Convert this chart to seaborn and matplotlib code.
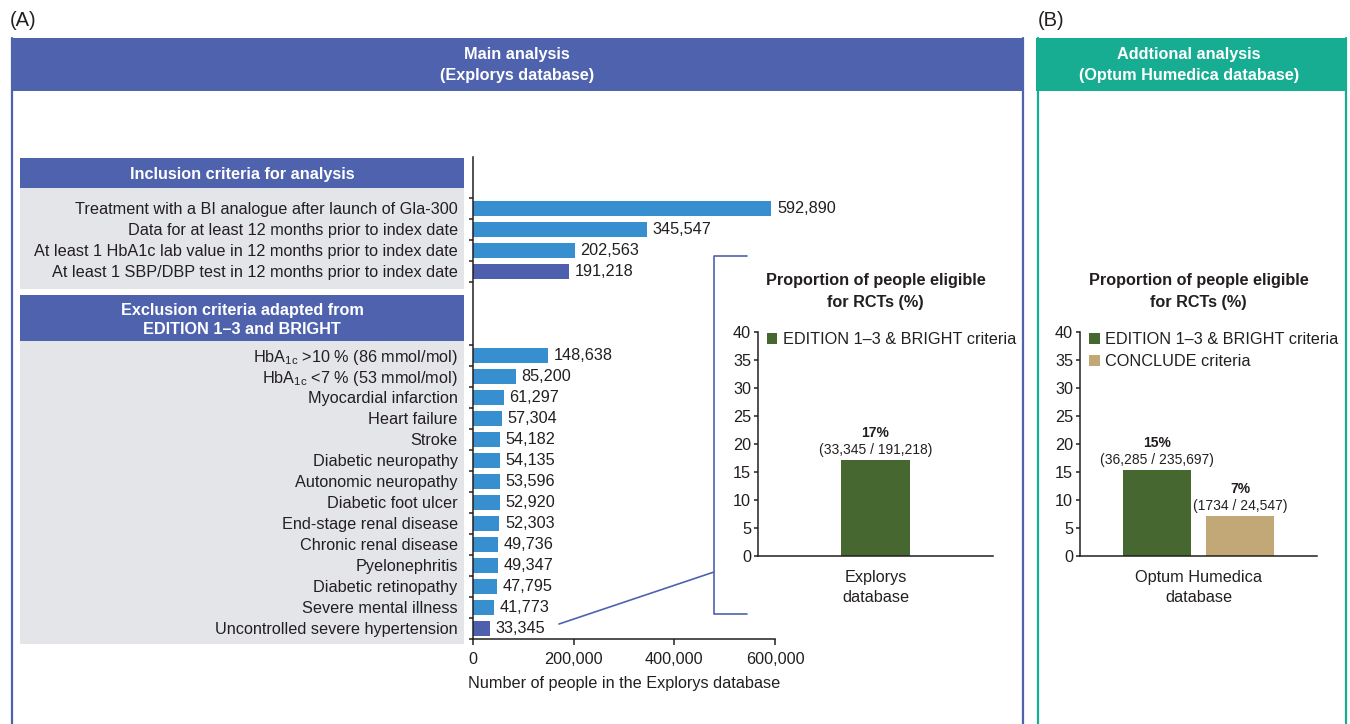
import numpy as np
import pandas as pd
import matplotlib
matplotlib.use("Agg")
import matplotlib.pyplot as plt
from matplotlib.patches import Rectangle
from matplotlib.lines import Line2D
import seaborn as sns

# ---------------- data ----------------
inclusion_labels = [
    "Treatment with a BI analogue after launch of Gla-300",
    "Data for at least 12 months prior to index date",
    "At least 1 HbA1c lab value in 12 months prior to index date",
    "At least 1 SBP/DBP test in 12 months prior to index date",
]
inclusion_counts = [592890, 345547, 202563, 191218]

exclusion_labels = [
    r"HbA$_{\mathregular{1c}}$ >10 % (86 mmol/mol)",
    r"HbA$_{\mathregular{1c}}$ <7 % (53 mmol/mol)",
    "Myocardial infarction",
    "Heart failure",
    "Stroke",
    "Diabetic neuropathy",
    "Autonomic neuropathy",
    "Diabetic foot ulcer",
    "End-stage renal disease",
    "Chronic renal disease",
    "Pyelonephritis",
    "Diabetic retinopathy",
    "Severe mental illness",
    "Uncontrolled severe hypertension",
]
exclusion_counts = [148638, 85200, 61297, 57304, 54182, 54135, 53596,
                    52920, 52303, 49736, 49347, 47795, 41773, 33345]
main_xticks = [0, 200000, 400000, 600000]

explorys_db = ["Explorys\ndatabase"]
explorys_criteria = ["EDITION 1\u20133 & BRIGHT criteria"]
explorys_pct = [17.2]
explorys_pct_text = ["17%"]
explorys_ratio_text = ["(33,345 / 191,218)"]

optum_db = ["Optum Humedica\ndatabase", "Optum Humedica\ndatabase"]
optum_criteria = ["EDITION 1\u20133 & BRIGHT criteria", "CONCLUDE criteria"]
optum_pct = [15.3, 7.1]
optum_pct_text = ["15%", "7%"]
optum_ratio_text = ["(36,285 / 235,697)", "(1734 / 24,547)"]

pct_ticks = [0, 5, 10, 15, 20, 25, 30, 35, 40]

# ---------------- style ----------------
sns.set_style("ticks")
plt.rcParams["font.family"] = ["Liberation Sans", "DejaVu Sans"]
plt.rcParams["mathtext.fontset"] = "custom"
plt.rcParams["mathtext.rm"] = "Liberation Sans"
plt.rcParams["mathtext.default"] = "regular"

TXT = "#231f20"
LIGHT = "#378fcf"
DARK = "#4e5fad"
HEAD = "#4f62ae"
TEAL = "#17ad92"
GRAY = "#e4e5e9"
GREEN = "#466730"
TAN = "#c2a877"
FS = 11.7

W, H = 1350, 724
fig = plt.figure(figsize=(W / 100, H / 100), dpi=100)


def rect(l, t, r, b):
    return [l / W, 1 - b / H, (r - l) / W, (b - t) / H]


# background / decoration layer in pixel coordinates
bg = fig.add_axes([0, 0, 1, 1])
bg.set_zorder(0)
bg.set_xlim(0, W)
bg.set_ylim(H, 0)
bg.axis("off")

bg.text(10, 20, "(A)", fontsize=14.5, color=TXT, ha="left", va="center")
bg.text(1038, 20, "(B)", fontsize=14.5, color=TXT, ha="left", va="center")

# panel A frame
bg.add_patch(Rectangle((11, 38), 1013, 53, color=HEAD, lw=0))
bg.add_line(Line2D([12, 12], [38, 730], color=HEAD, lw=1.6))
bg.add_line(Line2D([1023, 1023], [38, 730], color=HEAD, lw=1.6))
bg.text(517, 65, "Main analysis\n(Explorys database)", color="white",
        fontweight="bold", fontsize=FS, ha="center", va="center", linespacing=1.45)
# panel B frame
bg.add_patch(Rectangle((1036, 38), 311, 53, color=TEAL, lw=0))
bg.add_line(Line2D([1037.5, 1037.5], [38, 730], color=TEAL, lw=1.6))
bg.add_line(Line2D([1346, 1346], [38, 730], color=TEAL, lw=1.6))
bg.text(1189, 65, "Addtional analysis\n(Optum Humedica database)", color="white",
        fontweight="bold", fontsize=FS, ha="center", va="center", linespacing=1.45)

# criteria label panels
bg.add_patch(Rectangle((20, 158), 444, 30, color=HEAD, lw=0))
bg.text(242, 174, "Inclusion criteria for analysis", color="white",
        fontweight="bold", fontsize=FS, ha="center", va="center")
bg.add_patch(Rectangle((20, 188), 444, 101, color=GRAY, lw=0))
bg.add_patch(Rectangle((20, 295), 444, 46, color=HEAD, lw=0))
bg.text(242, 320, "Exclusion criteria adapted from\nEDITION 1\u20133 and BRIGHT",
        color="white", fontweight="bold", fontsize=FS, ha="center", va="center",
        linespacing=1.35)
bg.add_patch(Rectangle((20, 341), 444, 303, color=GRAY, lw=0))

# bracket + connector
bg.add_line(Line2D([747, 714, 714, 747], [256, 256, 614, 614], color=HEAD, lw=1.2))
bg.add_line(Line2D([559, 714], [624, 572], color=HEAD, lw=1.2))

# ---------------- main horizontal bar chart ----------------
gap_rows = 3
inc_rows = list(range(len(inclusion_labels)))
exc_rows = list(range(len(inclusion_labels) + gap_rows,
                      len(inclusion_labels) + gap_rows + len(exclusion_labels)))
main_df = pd.DataFrame({
    "label": inclusion_labels + exclusion_labels,
    "count": inclusion_counts + exclusion_counts,
    "row": inc_rows + exc_rows,
    "stage": (["step"] * (len(inclusion_labels) - 1) + ["final"]
              + ["step"] * (len(exclusion_labels) - 1) + ["final"]),
})

ax = fig.add_axes(rect(473, 157, 775, 639))
ax.set_zorder(2)
ax.patch.set_alpha(0)
sns.barplot(data=main_df, x="count", y="row", hue="stage", orient="h",
            native_scale=True, palette={"step": LIGHT, "final": DARK},
            width=0.68, dodge=False, legend=False, saturation=1, linewidth=0, ax=ax)
ax.set_xlim(main_xticks[0], main_xticks[-1])
ax.set_ylim(max(main_df["row"]) + 0.5, -2.45)
ax.set_xticks(main_xticks, labels=[f"{v:,}" for v in main_xticks])
ax.set_yticks(main_df["row"], labels=main_df["label"])
bounds = sorted(set([r - 0.5 for r in main_df["row"]] + [r + 0.5 for r in main_df["row"]]))
ax.set_yticks(bounds, minor=True)
ax.tick_params(axis="y", which="major", length=0, pad=11, labelsize=FS, labelcolor=TXT)
ax.tick_params(axis="y", which="minor", length=3, width=1.1, color=TXT, direction="out")
ax.tick_params(axis="x", which="major", length=4, width=1.1, color=TXT, labelsize=FS,
               labelcolor=TXT, pad=5)
ax.set_ylabel("")
ax.set_xlabel("Number of people in the Explorys database", fontsize=FS, color=TXT, labelpad=7)
sns.despine(ax=ax)
for s in ("left", "bottom"):
    ax.spines[s].set_color(TXT)
    ax.spines[s].set_linewidth(1.1)
for c in ax.containers:
    ax.bar_label(c, labels=[f"{v:,.0f}" for v in c.datavalues], padding=4,
                 fontsize=FS, color=TXT)


# ---------------- inset bar charts ----------------
def inset(axr, db, crit, pct, pct_txt, ratio_txt, palette, width, gap):
    a = fig.add_axes(axr)
    a.set_zorder(2)
    a.patch.set_alpha(0)
    df = pd.DataFrame({"db": db, "criteria": crit, "pct": pct})
    sns.barplot(data=df, x="db", y="pct", hue="criteria", palette=palette,
                width=width, gap=gap, saturation=1, linewidth=0, ax=a)
    a.set_xlim(-0.5, 0.5)
    a.set_ylim(pct_ticks[0], pct_ticks[-1])
    a.set_yticks(pct_ticks)
    a.set_xlabel("")
    a.set_ylabel("")
    a.tick_params(axis="x", length=0, pad=10, labelsize=FS, labelcolor=TXT)
    for t in a.get_xticklabels():
        t.set_linespacing(1.4)
    a.tick_params(axis="y", length=3, width=1.1, color=TXT, pad=2, labelsize=FS,
                  labelcolor=TXT)
    sns.despine(ax=a)
    for s in ("left", "bottom"):
        a.spines[s].set_color(TXT)
        a.spines[s].set_linewidth(1.1)
    a.set_title("Proportion of people eligible\nfor RCTs (%)", fontweight="bold",
                fontsize=FS, color=TXT, pad=18, linespacing=1.55)
    for cont, pt, rt in zip(a.containers, pct_txt, ratio_txt):
        for p in cont.patches:
            cx = p.get_x() + p.get_width() / 2
            h = p.get_height()
            a.annotate(rt, xy=(cx, h), xytext=(0, 3), textcoords="offset pixels",
                       ha="center", va="bottom", fontsize=10, color=TXT)
            a.annotate(pt, xy=(cx, h), xytext=(0, 20), textcoords="offset pixels",
                       ha="center", va="bottom", fontsize=10, color=TXT,
                       fontweight="bold")
    leg = a.legend(loc="upper left", bbox_to_anchor=(0.04, 1.0), frameon=False,
                   fontsize=FS, handlelength=0.62, handleheight=0.62,
                   handletextpad=0.35, borderpad=0, borderaxespad=0, labelspacing=0.45)
    for t in leg.get_texts():
        t.set_color(TXT)
    return a


inset(rect(758, 332, 993, 556), explorys_db, explorys_criteria, explorys_pct,
      explorys_pct_text, explorys_ratio_text, [GREEN], 0.29, 0)
inset(rect(1080, 332, 1317, 556), optum_db, optum_criteria, optum_pct,
      optum_pct_text, optum_ratio_text, [GREEN, TAN], 0.70, 0.18)

fig.savefig("out.png", dpi=100)
